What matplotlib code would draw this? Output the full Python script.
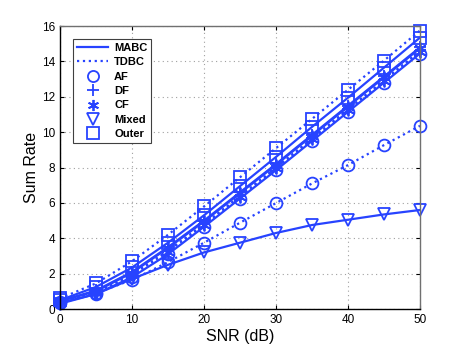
import matplotlib
matplotlib.use("Agg")
import matplotlib.pyplot as plt
from matplotlib.lines import Line2D

plt.rcParams['font.family'] = ['Liberation Sans', 'DejaVu Sans']

snr = [0, 5, 10, 15, 20, 25, 30, 35, 40, 45, 50]

outer_tdbc = [0.6, 1.45, 2.7, 4.2, 5.8, 7.45, 9.1, 10.75, 12.4, 14.05, 15.75]
outer_mabc = [0.5, 1.25, 2.35, 3.75, 5.3, 6.95, 8.6, 10.3, 11.95, 13.65, 15.35]
df_mabc = [0.45, 1.05, 2.1, 3.5, 5.0, 6.6, 8.2, 9.85, 11.5, 13.15, 14.8]
cf_mabc = [0.45, 1.0, 2.05, 3.45, 4.95, 6.55, 8.15, 9.8, 11.45, 13.1, 14.75]
df_tdbc = [0.4, 0.95, 1.95, 3.3, 4.8, 6.4, 8.0, 9.65, 11.3, 12.95, 14.6]
cf_tdbc = [0.4, 0.9, 1.9, 3.25, 4.75, 6.35, 7.95, 9.6, 11.25, 12.9, 14.55]
af_mabc = [0.35, 0.85, 1.8, 3.1, 4.65, 6.25, 7.85, 9.5, 11.15, 12.8, 14.45]
af_tdbc = [0.4, 0.9, 1.65, 2.65, 3.75, 4.88, 5.99, 7.1, 8.14, 9.27, 10.36]
mixed = [0.3, 0.85, 1.7, 2.5, 3.2, 3.75, 4.3, 4.75, 5.05, 5.35, 5.6]

blue = '#2743ff'
asterisk = (6, 2, 0)

fig = plt.figure(figsize=(4.63, 3.48), dpi=100)
ax = fig.add_axes([0.1296, 0.112, 0.7775, 0.813])

curves = [
    (outer_tdbc, ':', 's'),
    (outer_mabc, '-', 's'),
    (df_mabc, '-', '+'),
    (cf_mabc, '-', asterisk),
    (df_tdbc, ':', '+'),
    (cf_tdbc, ':', asterisk),
    (af_mabc, '-', 'o'),
    (af_tdbc, ':', 'o'),
    (mixed, '-', 'v'),
]
for y, ls, mk in curves:
    ax.plot(snr, y, color=blue, linestyle=ls, linewidth=1.6, marker=mk,
            markersize=8.5, markerfacecolor='none', markeredgecolor=blue,
            markeredgewidth=1.3, clip_on=False)

ax.set_xlim(0, 50)
ax.set_ylim(0, 16)
ax.set_xticks(range(0, 51, 10))
ax.set_yticks(range(0, 17, 2))
ax.grid(True, linestyle=(0, (1, 3)), color='#a0a0a0', linewidth=0.8)
ax.tick_params(direction='in', top=True, right=True, labelsize=8.5, length=3)
for s in ax.spines.values():
    s.set_linewidth(1.0)
ax.spines['top'].set_color('#707070')
ax.spines['right'].set_color('#707070')
ax.set_xlabel('SNR (dB)', fontsize=11.5, labelpad=2)
ax.set_ylabel('Sum Rate', fontsize=11.5, labelpad=2)

mk_kw = dict(color=blue, linestyle='none', markersize=8, markerfacecolor='none', markeredgewidth=1.3)
handles = [
    Line2D([], [], color=blue, linestyle='-', linewidth=1.6),
    Line2D([], [], color=blue, linestyle=':', linewidth=1.6),
    Line2D([], [], marker='o', **mk_kw),
    Line2D([], [], marker='+', **mk_kw),
    Line2D([], [], marker=asterisk, **mk_kw),
    Line2D([], [], marker='v', **mk_kw),
    Line2D([], [], marker='s', **mk_kw),
]
labels = ['MABC', 'TDBC', 'AF', 'DF', 'CF', 'Mixed', 'Outer']
leg = ax.legend(handles, labels, loc='upper left', bbox_to_anchor=(0.022, 0.975),
                fancybox=False, framealpha=1, edgecolor='#404040',
                prop={'weight': 'bold', 'size': 8}, handlelength=2.8,
                labelspacing=0.4, borderpad=0.35, handletextpad=0.5)
leg.get_frame().set_linewidth(0.8)

fig.savefig('out.png', dpi=100)
